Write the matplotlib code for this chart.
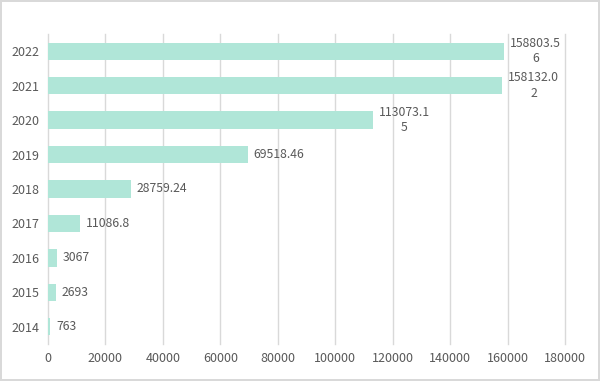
import matplotlib.pyplot as plt

plt.rcParams['font.family'] = ['Noto Sans CJK SC', 'DejaVu Sans']

years = ['2014', '2015', '2016', '2017', '2018', '2019', '2020', '2021', '2022']
values = [763, 2693, 3067, 11086.8, 28759.24, 69518.46, 113073.15, 158132.02, 158803.56]
labels = ['763', '2693', '3067', '11086.8', '28759.24', '69518.46',
          '113073.1\n5', '158132.0\n2', '158803.5\n6']

bar_color = '#b0e6d8'
grid_color = '#d9d9d9'
text_color = '#595959'

fig = plt.figure(figsize=(6, 3.81), dpi=100)
fig.patch.set_edgecolor(grid_color)
fig.patch.set_linewidth(1.5)
ax = fig.add_axes([0.08, 0.097, 0.862, 0.814])

ypos = range(len(years))
ax.barh(ypos, values, height=0.5, color=bar_color, zorder=2)

for y, v, lab in zip(ypos, values, labels):
    ax.text(v + 2000, y, lab, va='center', ha='left', multialignment='center',
            fontsize=8.8, color=text_color, linespacing=1.25)

ax.set_xlim(0, 180000)
ax.set_ylim(-0.5, len(years) - 0.5)
ax.set_xticks(range(0, 180001, 20000))
ax.set_yticks(list(ypos))
ax.set_yticklabels(years)
ax.xaxis.grid(True, color=grid_color, linewidth=1, zorder=0, clip_on=False)
ax.set_axisbelow(True)
ax.tick_params(length=0, labelsize=9, labelcolor=text_color)
ax.tick_params(axis='x', pad=6)
ax.tick_params(axis='y', pad=6)
for s in ax.spines.values():
    s.set_visible(False)

fig.savefig('out.png', dpi=100, edgecolor=fig.get_edgecolor())
